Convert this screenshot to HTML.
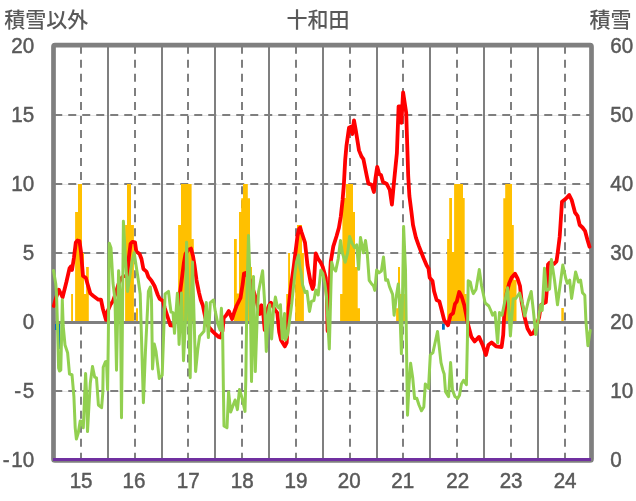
<!DOCTYPE html>
<html lang="ja"><head><meta charset="utf-8"><title>十和田</title>
<style>
html,body{margin:0;padding:0;background:#fff;}
body{width:636px;height:501px;overflow:hidden;}
svg{display:block;}
text{font-family:"Liberation Sans","Noto Sans CJK JP",sans-serif;fill:#595959;}
.jp{font-size:21px;font-weight:500;}
.num{font-size:20.6px;stroke:#595959;stroke-width:0.45px;}
</style></head><body>
<svg width="636" height="501" viewBox="0 0 636 501">
<rect width="636" height="501" fill="#fff"/>

<g stroke="#dcdcdc" stroke-width="0.7" fill="none">
<line x1="54" y1="115.5" x2="591" y2="115.5"/>
<line x1="54" y1="184.5" x2="591" y2="184.5"/>
<line x1="54" y1="253.5" x2="591" y2="253.5"/>
<line x1="54" y1="391.5" x2="591" y2="391.5"/>
</g>
<g stroke="#7f7f7f" stroke-width="2" fill="none" stroke-dasharray="8 6">
<line x1="54.25" y1="115" x2="591" y2="115"/>
<line x1="54.25" y1="184" x2="591" y2="184"/>
<line x1="54.25" y1="253" x2="591" y2="253"/>
<line x1="54.25" y1="391" x2="591" y2="391"/>
<line x1="81" y1="45.8" x2="81" y2="460" stroke-dasharray="8 6.035"/>
<line x1="135" y1="45.8" x2="135" y2="460" stroke-dasharray="8 6.035"/>
<line x1="188" y1="45.8" x2="188" y2="460" stroke-dasharray="8 6.035"/>
<line x1="242" y1="45.8" x2="242" y2="460" stroke-dasharray="8 6.035"/>
<line x1="296" y1="45.8" x2="296" y2="460" stroke-dasharray="8 6.035"/>
<line x1="350" y1="45.8" x2="350" y2="460" stroke-dasharray="8 6.035"/>
<line x1="403" y1="45.8" x2="403" y2="460" stroke-dasharray="8 6.035"/>
<line x1="457" y1="45.8" x2="457" y2="460" stroke-dasharray="8 6.035"/>
<line x1="511" y1="45.8" x2="511" y2="460" stroke-dasharray="8 6.035"/>
<line x1="565" y1="45.8" x2="565" y2="460" stroke-dasharray="8 6.035"/>
</g>
<g stroke="#7f7f7f" stroke-width="2" fill="none">
<line x1="108" y1="45.8" x2="108" y2="460"/>
<line x1="162" y1="45.8" x2="162" y2="460"/>
<line x1="215" y1="45.8" x2="215" y2="460"/>
<line x1="269" y1="45.8" x2="269" y2="460"/>
<line x1="323" y1="45.8" x2="323" y2="460"/>
<line x1="377" y1="45.8" x2="377" y2="460"/>
<line x1="430" y1="45.8" x2="430" y2="460"/>
<line x1="484" y1="45.8" x2="484" y2="460"/>
<line x1="538" y1="45.8" x2="538" y2="460"/>
</g>
<rect x="53.5" y="45.2" width="538" height="415.2" rx="1.5" fill="none" stroke="#7f7f7f" stroke-width="4.7" stroke-linejoin="round"/>
<g fill="#ffc000">
<path d="M71.1,322.5 L71.1,294.0 L73.0,294.0 L73.0,322.5 Z"/>
<path d="M75.1,322.5 L75.1,212.0 L78.0,212.0 L78.0,184.0 L82.0,184.0 L82.0,253.0 L84.0,253.0 L84.0,294.0 L86.1,294.0 L86.1,267.0 L88.8,267.0 L88.8,322.5 Z"/>
<path d="M125.1,322.5 L125.1,225.0 L127.0,225.0 L127.0,184.0 L131.0,184.0 L131.0,225.0 L133.9,225.0 L133.9,322.5 Z"/>
<path d="M136.0,322.5 L136.0,308.3 L138.0,308.3 L138.0,322.5 Z"/>
<path d="M178.1,322.5 L178.1,225.0 L181.0,225.0 L181.0,184.0 L191.6,184.0 L191.6,239.0 L193.8,239.0 L193.8,322.5 Z"/>
<path d="M234.0,322.5 L234.0,239.0 L236.8,239.0 L236.8,293.5 L239.0,293.5 L239.0,212.0 L241.2,212.0 L241.2,198.3 L243.0,198.3 L243.0,184.0 L247.8,184.0 L247.8,198.3 L250.0,198.3 L250.0,267.0 L252.0,267.0 L252.0,322.5 Z"/>
<path d="M286.2,322.5 L286.2,294.0 L288.1,294.0 L288.1,253.0 L290.0,253.0 L290.0,322.5 Z"/>
<path d="M295.2,322.5 L295.2,253.0 L297.0,253.0 L297.0,225.0 L302.0,225.0 L302.0,253.0 L303.9,253.0 L303.9,322.5 Z"/>
<path d="M340.1,322.5 L340.1,294.0 L342.4,294.0 L342.4,198.0 L345.8,198.0 L345.8,184.0 L353.0,184.0 L353.0,212.0 L355.0,212.0 L355.0,267.0 L357.7,267.0 L357.7,308.3 L360.0,308.3 L360.0,322.5 Z"/>
<path d="M396.1,322.5 L396.1,308.3 L398.0,308.3 L398.0,267.0 L400.0,267.0 L400.0,294.0 L405.2,294.0 L405.2,322.5 Z"/>
<path d="M447.1,322.5 L447.1,239.0 L449.2,239.0 L449.2,198.0 L452.0,198.0 L452.0,252.0 L454.1,252.0 L454.1,184.0 L463.0,184.0 L463.0,198.0 L464.7,198.0 L464.7,294.0 L466.8,294.0 L466.8,322.5 Z"/>
<path d="M503.3,322.5 L503.3,198.3 L505.2,198.3 L505.2,184.0 L512.0,184.0 L512.0,225.0 L513.8,225.0 L513.8,280.0 L516.5,280.0 L516.5,322.5 Z"/>
<path d="M561.3,322.5 L561.3,308.0 L563.8,308.0 L563.8,322.5 Z"/>
</g>
<g fill="#0070c0">
<rect x="55.0" y="324.0" width="2.5" height="6.0"/>
<rect x="57.5" y="324.0" width="2.7" height="25.0"/>
<rect x="442.0" y="324.0" width="2.8" height="5.7"/>
</g>
<line x1="54" y1="322.5" x2="591" y2="322.5" stroke="#7f7f7f" stroke-width="3"/>
<g fill="none" stroke="#ff0000" stroke-width="3.8" stroke-linejoin="round" stroke-linecap="round">
<polyline points="53.8,306.0 56.0,298.0 58.8,289.7 60.5,293.0 62.6,297.2 66.4,282.0 69.5,268.3 70.8,266.5 72.0,270.0 73.9,258.0 75.8,242.5 77.5,240.5 79.5,241.0 81.0,252.0 83.0,276.0 85.8,277.8 87.7,284.6 90.3,293.4 93.4,296.0 98.4,299.7 101.0,299.7 102.8,308.5 106.0,319.9 107.2,312.3 110.4,304.8 113.0,301.0 116.3,291.4 118.5,284.0 121.0,278.5 123.0,276.5 125.5,276.0 127.4,275.0 128.9,257.0 130.6,243.8 132.5,241.8 135.0,242.3 136.3,251.5 139.6,254.0 141.5,259.0 143.4,269.0 146.5,271.6 148.4,277.0 151.5,280.7 154.7,286.3 157.8,295.0 159.7,298.9 162.9,300.8 164.7,307.7 167.9,317.8 170.4,325.3 173.0,325.5 175.5,320.0 179.1,300.0 184.0,262.0 185.5,254.0 188.0,250.0 191.0,248.6 193.0,256.0 194.5,265.0 196.5,280.0 199.0,292.6 200.8,300.0 202.8,305.2 205.3,317.7 208.4,326.5 211.6,330.3 215.3,334.0 218.8,337.0 220.4,337.5 222.5,331.0 223.7,318.0 226.0,315.5 228.8,311.0 232.1,319.0 234.3,312.0 236.5,306.0 240.5,298.0 242.7,283.9 244.0,273.5 245.5,273.0 250.0,280.0 255.8,298.0 259.7,314.0 261.5,305.3 263.4,315.3 264.7,330.0 266.0,328.0 268.0,308.0 269.0,305.3 271.0,302.8 272.9,306.5 275.4,310.3 277.3,312.8 279.2,332.0 281.0,340.0 284.8,346.4 286.7,342.6 288.0,322.0 288.6,307.8 291.1,285.2 293.6,267.5 295.5,252.0 297.5,236.0 299.0,229.0 300.2,227.5 301.5,232.0 303.5,238.0 305.0,242.6 307.5,265.2 310.7,282.8 312.6,289.0 313.8,285.0 315.7,253.3 318.2,259.0 320.8,262.7 322.6,266.5 325.8,277.8 327.0,300.0 327.6,331.0 329.5,300.0 330.2,271.5 330.8,261.4 333.3,246.4 336.5,236.3 338.9,227.8 340.8,216.5 342.6,200.0 343.9,183.8 345.2,160.0 346.5,145.4 349.0,127.8 351.6,126.5 352.3,134.0 354.0,120.3 355.8,130.3 359.0,150.4 361.6,156.7 363.4,159.2 366.7,175.6 368.4,183.6 371.7,184.8 373.9,192.0 375.5,178.0 377.2,166.8 379.2,174.3 381.0,175.0 383.0,182.0 386.8,184.0 389.8,190.0 391.9,204.5 393.8,184.0 396.9,153.0 398.6,106.4 400.6,106.4 401.4,122.8 403.1,92.3 406.2,112.7 408.2,175.6 409.4,196.0 411.5,212.6 413.0,225.0 415.9,237.6 419.0,246.4 423.4,257.7 426.6,265.3 428.5,268.4 429.7,277.8 432.5,281.0 434.1,291.3 436.6,300.0 439.4,301.4 441.7,310.2 444.2,320.2 448.0,325.3 450.5,315.2 453.0,313.3 455.0,303.9 456.7,301.7 459.2,292.0 461.7,296.7 464.2,305.0 465.8,313.0 467.7,323.0 471.4,336.9 474.6,341.5 479.0,336.9 482.8,345.4 485.9,355.0 488.4,345.0 491.6,342.5 496.0,346.3 501.6,347.0 503.2,335.0 504.2,315.5 506.7,293.0 509.2,283.3 511.7,277.5 515.0,273.7 517.5,278.3 520.0,286.0 521.7,302.0 524.3,316.0 527.5,328.5 530.8,334.3 533.0,333.5 536.0,328.0 539.2,317.0 540.8,305.5 543.0,303.5 545.8,302.3 547.0,287.7 548.0,264.5 549.6,262.6 554.0,263.8 556.5,261.3 557.7,253.0 559.7,236.7 560.8,220.0 562.0,201.7 565.8,198.7 569.2,195.0 571.7,200.0 575.0,212.5 577.5,215.8 579.7,225.0 582.5,227.5 585.0,230.8 587.5,240.0 589.5,246.7"/>
</g>
<g fill="none" stroke="#92d050" stroke-width="3" stroke-linejoin="round" stroke-linecap="round">
<polyline points="53.5,270.5 55.8,284.0 56.5,293.0 57.4,322.0 58.6,368.0 59.5,371.0 60.8,370.0 61.6,335.0 62.3,299.7 63.2,326.0 65.0,345.0 67.6,352.7 69.5,374.0 72.0,374.7 73.9,396.4 75.2,427.8 76.4,439.0 78.3,432.8 80.2,420.9 81.7,421.5 83.3,427.8 84.6,396.4 85.6,373.5 86.5,392.6 87.5,431.6 89.0,405.0 90.3,383.0 92.5,366.5 94.7,377.2 96.5,377.9 98.4,405.0 101.6,407.7 102.8,392.6 103.2,367.2 105.3,362.0 106.5,361.5 107.6,389.8 108.3,340.0 109.3,243.3 111.0,248.0 113.0,283.0 115.0,300.0 116.5,370.3 118.6,270.8 120.4,300.0 121.5,417.7 123.4,221.3 125.5,260.0 127.6,291.4 130.0,275.0 132.0,262.0 134.2,252.7 136.0,265.0 138.0,278.0 140.2,294.0 141.5,338.0 143.4,402.7 145.5,350.0 147.0,320.0 148.4,291.4 150.3,287.0 151.5,300.0 152.5,369.0 154.3,344.0 156.0,351.4 159.3,378.5 162.2,375.3 163.8,330.0 165.1,294.0 168.5,291.4 169.8,303.0 171.0,312.0 173.0,312.7 174.5,333.3 176.0,312.7 177.4,293.2 179.1,344.5 181.5,293.0 183.5,360.8 185.6,318.0 186.6,242.3 188.4,300.0 190.2,377.8 191.3,300.0 192.5,261.9 195.6,371.5 197.7,350.0 199.6,336.3 204.0,331.3 206.3,302.6 208.4,337.6 210.3,302.6 213.5,300.0 215.3,311.4 217.9,324.0 220.1,330.3 221.4,308.3 222.6,330.0 223.4,390.0 224.0,426.0 227.0,427.8 228.6,392.0 230.7,412.0 233.2,405.0 235.1,400.0 237.4,409.6 239.5,389.4 242.0,397.6 245.0,411.4 245.8,380.0 247.0,290.0 248.5,235.5 250.0,280.0 251.5,381.6 253.5,276.5 255.3,371.6 257.1,320.0 258.5,292.0 262.6,270.8 264.5,300.0 266.3,351.4 268.0,315.0 269.7,304.7 271.6,338.9 273.5,310.0 275.4,297.1 277.3,306.5 278.8,308.0 280.4,304.7 282.3,338.9 284.6,313.5 285.4,340.0 287.5,335.0 289.2,323.0 291.7,304.0 295.0,272.6 296.5,262.0 298.5,255.0 300.0,268.0 301.0,271.7 302.6,285.0 305.1,292.5 307.0,291.3 309.5,311.4 311.4,301.4 313.9,300.5 315.8,290.0 318.2,295.0 320.8,270.3 322.8,273.5 324.8,283.0 326.4,295.0 329.3,349.0 331.0,285.0 331.7,262.2 333.2,267.8 335.7,271.0 338.2,259.0 340.5,240.4 342.4,253.0 345.2,262.2 347.7,252.7 349.6,236.4 352.0,243.3 354.6,247.7 356.7,244.8 358.6,269.3 360.5,237.4 363.4,252.7 365.5,240.4 367.2,253.0 369.2,280.3 371.7,284.0 373.6,286.0 374.8,290.4 376.7,270.0 379.0,272.9 381.4,271.0 383.5,257.0 385.7,280.3 387.6,279.7 389.5,286.6 392.6,294.4 394.1,315.2 396.5,295.0 398.3,284.0 399.5,300.0 401.4,353.8 402.5,300.0 403.6,226.4 405.5,270.0 406.4,340.0 407.5,415.2 409.0,385.0 410.6,363.3 412.7,377.7 414.6,398.5 416.8,398.2 419.0,405.0 421.5,410.8 423.8,407.0 425.3,384.0 428.5,388.4 430.3,355.0 432.9,352.6 435.4,341.3 437.5,331.5 439.2,346.3 441.0,362.6 442.9,370.2 444.2,374.0 445.5,391.6 448.6,396.6 450.6,362.6 452.5,390.3 455.0,396.6 457.6,398.5 459.5,395.3 461.4,384.0 463.6,380.3 466.4,384.7 467.4,340.0 468.2,280.8 470.3,282.0 472.0,290.0 473.3,293.6 476.0,289.5 479.3,269.6 481.6,286.0 485.2,303.0 488.8,306.0 491.0,311.0 492.6,315.2 495.0,312.4 497.6,342.8 499.5,312.6 502.0,315.2 504.5,303.0 507.6,287.8 510.4,336.0 513.2,298.8 515.8,298.5 519.5,293.0 522.1,302.0 524.8,316.0 528.3,301.0 531.2,291.5 533.4,311.0 535.7,334.5 538.1,321.0 540.5,305.0 542.2,310.5 544.5,268.2 546.4,290.3 549.6,289.0 551.4,259.4 554.5,280.0 557.5,304.7 562.8,265.0 565.9,279.0 567.2,283.3 569.7,280.2 571.6,298.4 575.6,272.0 578.5,282.0 580.6,280.2 582.5,292.8 584.8,295.3 585.9,320.5 587.9,345.7 590.2,330.6"/>
</g>
<line x1="53" y1="459.5" x2="591" y2="459.5" stroke="#7030a0" stroke-width="3"/>
<text class="jp" x="4.3" y="27.3">積雪以外</text>
<text class="jp" x="318" y="27.3" text-anchor="middle">十和田</text>
<text class="jp" x="589.5" y="27.3">積雪</text>
<text class="num" transform="translate(34.2,53.0) scale(1,1.09)" text-anchor="end">20</text>
<text class="num" transform="translate(34.2,122.0) scale(1,1.09)" text-anchor="end">15</text>
<text class="num" transform="translate(34.2,191.0) scale(1,1.09)" text-anchor="end">10</text>
<text class="num" transform="translate(34.2,260.0) scale(1,1.09)" text-anchor="end">5</text>
<text class="num" transform="translate(34.2,329.0) scale(1,1.09)" text-anchor="end">0</text>
<text class="num" transform="translate(34.2,398.0) scale(1,1.09)" text-anchor="end">5</text>
<text class="num" transform="translate(21.1,398.0) scale(1,1.09)" text-anchor="end">-</text>
<text class="num" transform="translate(34.2,467.0) scale(1,1.09)" text-anchor="end">10</text>
<text class="num" transform="translate(9.7,467.0) scale(1,1.09)" text-anchor="end">-</text>
<text class="num" transform="translate(610.2,53.0) scale(1,1.09)">60</text>
<text class="num" transform="translate(610.2,122.0) scale(1,1.09)">50</text>
<text class="num" transform="translate(610.2,191.0) scale(1,1.09)">40</text>
<text class="num" transform="translate(610.2,260.0) scale(1,1.09)">30</text>
<text class="num" transform="translate(610.2,329.0) scale(1,1.09)">20</text>
<text class="num" transform="translate(610.2,398.0) scale(1,1.09)">10</text>
<text class="num" transform="translate(610.2,467.0) scale(1,1.09)">0</text>
<text class="num" transform="translate(81.1,488) scale(1,1.09)" text-anchor="middle">15</text>
<text class="num" transform="translate(133.9,488) scale(1,1.09)" text-anchor="middle">16</text>
<text class="num" transform="translate(188.2,488) scale(1,1.09)" text-anchor="middle">17</text>
<text class="num" transform="translate(242.2,488) scale(1,1.09)" text-anchor="middle">18</text>
<text class="num" transform="translate(295.9,488) scale(1,1.09)" text-anchor="middle">19</text>
<text class="num" transform="translate(349.3,488) scale(1,1.09)" text-anchor="middle">20</text>
<text class="num" transform="translate(402.8,488) scale(1,1.09)" text-anchor="middle">21</text>
<text class="num" transform="translate(457.8,488) scale(1,1.09)" text-anchor="middle">22</text>
<text class="num" transform="translate(511.1,488) scale(1,1.09)" text-anchor="middle">23</text>
<text class="num" transform="translate(565.1,488) scale(1,1.09)" text-anchor="middle">24</text>
</svg></body></html>
